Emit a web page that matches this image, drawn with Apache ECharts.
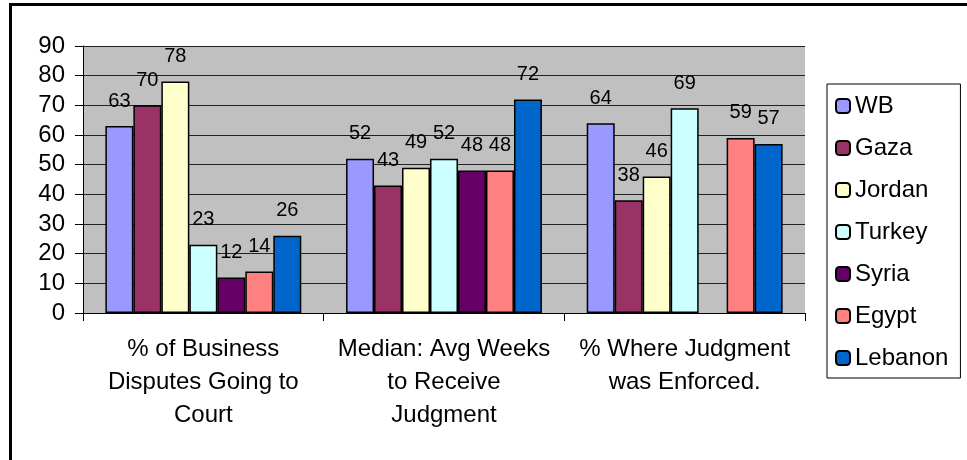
<!DOCTYPE html>
<html>
<head>
<meta charset="utf-8">
<script src="https://cdn.jsdelivr.net/npm/echarts@6/dist/echarts.min.js"></script>
<style>
  html, body { margin: 0; padding: 0; background: #fff; }
  #chart { width: 967px; height: 460px; }
</style>
</head>
<body>
<div id="chart"></div>
<script>
  // categories along the x axis
  var categories = [
    '% of Business\nDisputes Going to\nCourt',
    'Median: Avg Weeks\nto Receive\nJudgment',
    '% Where Judgment\nwas Enforced.'
  ];
  var yTicks = { min: 0, max: 90, interval: 10 };

  // one array per country, in category order (null = no bar)
  var wb      = [63, 52, 64];
  var gaza    = [70, 43, 38];
  var jordan  = [78, 49, 46];
  var turkey  = [23, 52, 69];
  var syria   = [12, 48, null];
  var egypt   = [14, 48, 59];
  var lebanon = [26, 72, 57];

  var seriesDefs = [
    { name: 'WB',      data: wb,      color: '#9999FF' },
    { name: 'Gaza',    data: gaza,    color: '#993366' },
    { name: 'Jordan',  data: jordan,  color: '#FFFFCC' },
    { name: 'Turkey',  data: turkey,  color: '#CCFFFF' },
    { name: 'Syria',   data: syria,   color: '#660066' },
    { name: 'Egypt',   data: egypt,   color: '#FF8080' },
    { name: 'Lebanon', data: lebanon, color: '#0066CC' }
  ];

  var font = '"Liberation Sans", Arial, sans-serif';
  var chart = echarts.init(document.getElementById('chart'));

  chart.setOption({
    animation: false,
    backgroundColor: '#fff',
    textStyle: { fontFamily: font, color: '#000' },
    graphic: [{
      type: 'rect',
      shape: { x: 10.5, y: 4.5, width: 1000, height: 500 },
      style: { fill: 'none', stroke: '#000', lineWidth: 3 },
      silent: true
    }],
    grid: {
      left: 83,
      right: 162,
      top: 46,
      bottom: 147,
      show: true,
      backgroundColor: '#C0C0C0',
      borderWidth: 0
    },
    legend: {
      orient: 'vertical',
      left: 827,
      top: 84,
      padding: [10, 12, 8, 8],
      itemGap: 18,
      itemWidth: 14,
      itemHeight: 14,
      borderColor: '#000',
      borderWidth: 1,
      textStyle: { fontFamily: font, fontSize: 24, color: '#000' },
      data: seriesDefs.map(function (s) { return s.name; })
    },
    xAxis: {
      type: 'category',
      data: categories,
      axisLine: { lineStyle: { color: '#000', width: 1 } },
      axisTick: { show: true, length: 8, lineStyle: { color: '#000' } },
      axisLabel: {
        interval: 0,
        margin: 20,
        fontSize: 24,
        lineHeight: 33,
        color: '#000',
        align: 'center'
      }
    },
    yAxis: {
      type: 'value',
      min: yTicks.min,
      max: yTicks.max,
      interval: yTicks.interval,
      axisLine: { show: true, lineStyle: { color: '#000', width: 1 } },
      axisTick: { show: true, length: 8, lineStyle: { color: '#000' } },
      splitLine: { lineStyle: { color: '#222', width: 1 } },
      axisLabel: { fontSize: 24, margin: 18, color: '#000' }
    },
    series: seriesDefs.map(function (s) {
      return {
        name: s.name,
        type: 'bar',
        data: s.data,
        barGap: '0%',
        barCategoryGap: '18.6%',
        itemStyle: { color: s.color, borderColor: '#000', borderWidth: 1.5 },
        label: {
          show: true,
          position: 'top',
          distance: 15,
          fontSize: 20,
          color: '#000'
        }
      };
    })
  });
</script>
</body>
</html>
